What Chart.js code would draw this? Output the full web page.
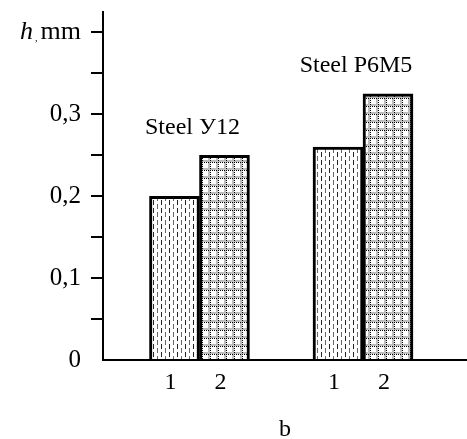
<!DOCTYPE html>
<html>
<head>
<meta charset="utf-8">
<script src="https://cdn.jsdelivr.net/npm/chart.js@4"></script>
<style>
  html, body { margin: 0; padding: 0; background: #fff; }
</style>
</head>
<body>
<canvas id="chart" width="467" height="439"></canvas>
<script>
// Data
const groups = ["Steel У12", "Steel P6M5"];
const seriesNames = ["1", "2"];
const series1 = [0.2, 0.26];
const series2 = [0.25, 0.325];
const yTicks = [0, 0.05, 0.1, 0.15, 0.2, 0.25, 0.3, 0.35, 0.4];
const yTickLabels = ["0", "", "0,1", "", "0,2", "", "0,3", "", ""];
const yUnit = { symbol: "h", unit: "mm" };
const caption = "b";

const FONT = "'Liberation Serif', 'Times New Roman', serif";

// hatch fills
function makePattern(w, h, draw) {
    const c = document.createElement("canvas");
    c.width = w;
    c.height = h;
    const g = c.getContext("2d");
    g.fillStyle = "#fff";
    g.fillRect(0, 0, w, h);
    draw(g);
    return g.createPattern(c, "repeat");
}

const dashFill = makePattern(8, 8, g => {
    g.fillStyle = "#222";
    g.fillRect(1, 0, 1, 5);
    g.fillStyle = "#666";
    g.fillRect(5, 4, 1, 5);
    g.fillRect(5, 0, 1, 1);
});

const gridFill = makePattern(8, 8, g => {
    g.fillStyle = "#bdbdbd";
    g.fillRect(0, 0, 8, 2);
    g.fillRect(0, 0, 2, 8);
    g.fillStyle = "#000";
    for (let i = 0; i < 8; i += 2) {
        g.fillRect(i, 2, 1, 1);
        g.fillRect(2, i, 1, 1);
    }
});

// group names, bar numbers and the axis unit
const labelPlugin = {
    id: "labels",
    afterDraw(chart) {
        const ctx = chart.ctx;
        const m0 = chart.getDatasetMeta(0);
        const m1 = chart.getDatasetMeta(1);
        const bottom = chart.chartArea.bottom;
        ctx.save();
        ctx.fillStyle = "#000";
        ctx.textBaseline = "middle";
        ctx.textAlign = "center";
        ctx.font = "24px " + FONT;
        groups.forEach((name, i) => {
            const b0 = m0.data[i];
            const b1 = m1.data[i];
            const cx = (b0.x + b1.x) / 2;
            const top = Math.min(b0.y, b1.y);
            ctx.fillText(name, cx - 7, top - 28);
            ctx.fillText(seriesNames[0], b0.x - 4, bottom + 23);
            ctx.fillText(seriesNames[1], b1.x - 4, bottom + 23);
        });

        const ys = chart.scales.y;
        const yTop = ys.getPixelForValue(yTicks[yTicks.length - 1]);
        let x = ys.right - 12 - 10;
        ctx.textAlign = "right";
        ctx.font = "26px " + FONT;
        ctx.fillText(yUnit.unit, x, yTop);
        x -= ctx.measureText(yUnit.unit).width + 3;
        ctx.font = "10px " + FONT;
        ctx.fillText(",", x, yTop + 6);
        x -= ctx.measureText(",").width + 2;
        ctx.font = "italic 26px " + FONT;
        ctx.fillText(yUnit.symbol, x, yTop);
        ctx.restore();
    }
};

new Chart(document.getElementById("chart"), {
    type: "bar",
    data: {
        datasets: [
            {
                label: seriesNames[0],
                data: series1.map((v, i) => ({ x: i + 1, y: v })),
                backgroundColor: dashFill,
                borderColor: "#000",
                borderWidth: 3,
                barThickness: 50
            },
            {
                label: seriesNames[1],
                data: series2.map((v, i) => ({ x: i + 1, y: v })),
                backgroundColor: gridFill,
                borderColor: "#000",
                borderWidth: 3,
                barThickness: 50
            }
        ]
    },
    options: {
        responsive: false,
        animation: false,
        layout: { padding: { top: 12, left: 0, right: 0, bottom: 0 } },
        plugins: {
            legend: { display: false },
            tooltip: { enabled: false }
        },
        scales: {
            x: {
                type: "linear",
                min: 0.41,
                max: 2.636,
                offset: false,
                grid: { display: false },
                ticks: { display: false },
                border: { display: true, color: "#000", width: 2 },
                title: {
                    display: true,
                    text: caption,
                    color: "#000",
                    font: { family: FONT, size: 24, lineHeight: 0.75 },
                    padding: 0
                },
                afterFit: s => { s.height = 79; }
            },
            y: {
                min: 0,
                max: 0.425,
                afterBuildTicks: s => { s.ticks = yTicks.map(v => ({ value: v })); },
                afterFit: s => {
                    s.width = 103;
                    s.paddingTop = 0;
                    s.paddingBottom = 0;
                },
                grid: {
                    drawOnChartArea: false,
                    drawTicks: true,
                    tickLength: 12,
                    lineWidth: 2,
                    color: c => (c.tick && c.tick.value === 0) ? "rgba(0,0,0,0)" : "#000"
                },
                border: { display: true, color: "#000", width: 2 },
                ticks: {
                    padding: 10,
                    color: "#000",
                    font: { family: FONT, size: 25, lineHeight: 1 },
                    callback: (v, i) => yTickLabels[i]
                }
            }
        }
    },
    plugins: [labelPlugin]
});
</script>
</body>
</html>
